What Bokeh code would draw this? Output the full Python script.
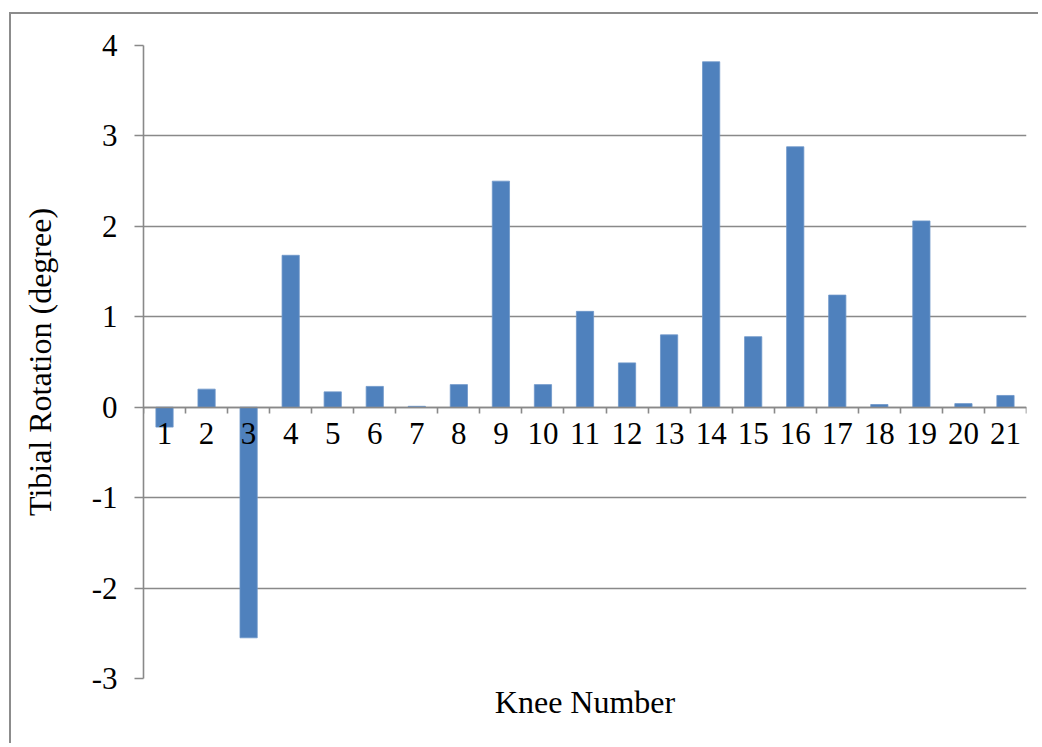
from bokeh.plotting import figure
from bokeh.models import ColumnDataSource, FixedTicker, LinearAxis
from bokeh.embed import file_html
from bokeh.resources import INLINE

knee_numbers = [1, 2, 3, 4, 5, 6, 7, 8, 9, 10, 11, 12, 13, 14, 15, 16, 17, 18, 19, 20, 21]
tibial_rotation = [-0.22, 0.20, -2.55, 1.68, 0.17, 0.23, 0.01, 0.25, 2.50, 0.25, 1.06,
                   0.49, 0.80, 3.82, 0.78, 2.88, 1.24, 0.03, 2.06, 0.04, 0.13]
y_ticks = [-3, -2, -1, 0, 1, 2, 3, 4]

FONT = "Liberation Serif"
GRAY = "#898989"
BLUE = "#4f81bd"

source = ColumnDataSource(dict(knee=knee_numbers, rot=tibial_rotation))

p = figure(width=1029, height=731,
           x_range=(knee_numbers[0] - 0.5, knee_numbers[-1] + 0.5),
           y_range=(y_ticks[0], y_ticks[-1]),
           output_backend="svg", toolbar_location=None,
           min_border_left=132, min_border_right=14,
           min_border_top=31, min_border_bottom=67)
p.styles = {"margin-left": "9px", "margin-top": "12px",
            "border-left": "2px solid #8c8c8c", "border-top": "2px solid #8c8c8c"}
p.outline_line_color = None
p.background_fill_color = "white"
p.border_fill_color = "white"

p.vbar(x="knee", top="rot", bottom=0, width=0.41, source=source,
       fill_color=BLUE, line_color="#6f97c9", line_width=0.8)

# grid
p.xgrid.visible = False
p.ygrid.ticker = FixedTicker(ticks=y_ticks)
p.ygrid.grid_line_color = GRAY
p.ygrid.grid_line_width = 1.6

# y axis
ya = p.yaxis[0]
ya.ticker = FixedTicker(ticks=y_ticks)
ya.major_label_overrides = {t: str(t) for t in y_ticks}
ya.axis_line_color = GRAY
ya.axis_line_width = 1.6
ya.major_tick_line_color = GRAY
ya.major_tick_line_width = 1.6
ya.major_tick_out = 9
ya.major_tick_in = 0
ya.minor_tick_line_color = None
ya.major_label_text_font = FONT
ya.major_label_text_font_size = "31px"
ya.major_label_text_color = "black"
ya.major_label_standoff = 17
ya.axis_label = "Tibial Rotation (degree)"
ya.axis_label_text_font = FONT
ya.axis_label_text_font_size = "32px"
ya.axis_label_text_font_style = "normal"
ya.axis_label_text_color = "black"
ya.axis_label_standoff = 31

# x axis crossing at zero
xa = p.xaxis[0]
xa.fixed_location = 0
boundaries = [k - 0.5 for k in knee_numbers] + [knee_numbers[-1] + 0.5]
xa.ticker = FixedTicker(ticks=knee_numbers, minor_ticks=boundaries)
xa.axis_line_color = GRAY
xa.axis_line_width = 1.6
xa.major_tick_out = 0
xa.major_tick_in = 0
xa.minor_tick_out = 6
xa.minor_tick_in = 0
xa.minor_tick_line_color = GRAY
xa.minor_tick_line_width = 1.6
xa.major_label_text_font = FONT
xa.major_label_text_font_size = "31px"
xa.major_label_text_color = "black"
xa.major_label_standoff = 10

# title axis at the bottom
ta = LinearAxis(ticker=FixedTicker(ticks=[]), axis_label="Knee Number")
ta.axis_line_color = None
ta.major_tick_line_color = None
ta.minor_tick_line_color = None
ta.axis_label_text_font = FONT
ta.axis_label_text_font_size = "32px"
ta.axis_label_text_font_style = "normal"
ta.axis_label_text_color = "black"
ta.axis_label_standoff = 5
p.add_layout(ta, "below")

open("out.html", "w").write(file_html(p, INLINE))
